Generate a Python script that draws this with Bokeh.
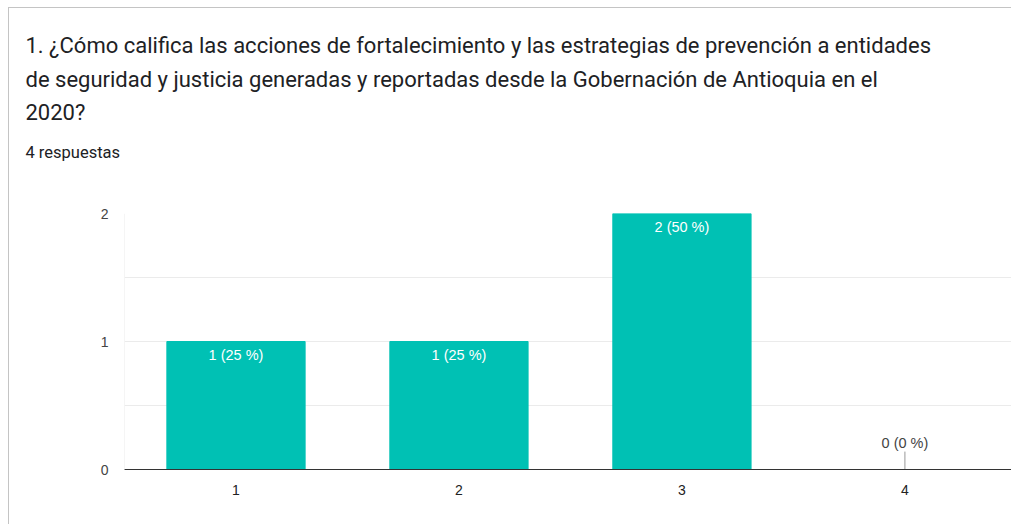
from bokeh.plotting import figure
from bokeh.layouts import column
from bokeh.models import FixedTicker, Span, ColumnDataSource, Range1d, GlobalInlineStyleSheet
from bokeh.core.properties import value
from bokeh.embed import file_html
from bokeh.resources import INLINE

# ---- data ----
categories = ["1", "2", "3", "4"]
counts = [1, 1, 2, 0]
percents = [25, 25, 50, 0]
title_lines = [
    "1. ¿Cómo califica las acciones de fortalecimiento y las estrategias de prevención a entidades",
    "de seguridad y justicia generadas y reportadas desde la Gobernación de Antioquia en el",
    "2020?",
]
subtitle = "4 respuestas"
y_ticks = [0, 1, 2]
y_grid = [0.5, 1, 1.5, 2]

BAR = "#00c1b4"
W = 1002
HT = 195          # header (title) height
HC = 321          # chart height

xs = list(range(1, len(categories) + 1))
labels = [f"{c} ({p} %)" for c, p in zip(counts, percents)]

# ---- header figure: pixel-like coordinates (y downwards) ----
t = figure(width=W, height=HT, output_backend="svg", toolbar_location=None,
           x_range=Range1d(0, W), y_range=Range1d(HT, 0),
           min_border=0, outline_line_color=None, frame_align=False)
t.axis.visible = False
t.grid.visible = False
t.text(x=[16] * len(title_lines), y=[37 + 33.5 * i for i in range(len(title_lines))],
       text=title_lines, text_font=value("Roboto"), text_font_size="22px",
       text_color="#202124", text_baseline="alphabetic")
t.text(x=[16], y=[144], text=[subtitle], text_font=value("Roboto"), text_font_size="16.5px",
       text_color="#202124", text_baseline="alphabetic")

# ---- chart figure ----
p = figure(width=W, height=HC, output_backend="svg", toolbar_location=None,
           x_range=(0.5, 4.478), y_range=(0, 2), frame_align=False,
           min_border_left=115, min_border_right=0, min_border_top=10, min_border_bottom=55)
p.outline_line_color = None

src = ColumnDataSource(dict(x=xs, top=counts, label=labels))
p.vbar(x="x", top="top", width=0.62, source=src, fill_color=BAR, line_color=BAR)

pos = [i for i, c in enumerate(counts) if c > 0]
zero = [i for i, c in enumerate(counts) if c == 0]
p.text(x=[xs[i] for i in pos], y=[counts[i] for i in pos], text=[labels[i] for i in pos],
       text_color="white", text_font=value("Liberation Sans"), text_font_size="14.5px",
       text_align="center", text_baseline="top", y_offset=5)
p.text(x=[xs[i] for i in zero], y=[counts[i] for i in zero], text=[labels[i] for i in zero],
       text_color="#444444", text_font=value("Liberation Sans"), text_font_size="14.5px",
       text_align="center", text_baseline="bottom", y_offset=-19)
p.segment(x0=[xs[i] for i in zero], y0=[counts[i] for i in zero],
          x1=[xs[i] for i in zero], y1=[counts[i] + 0.14 for i in zero],
          line_color="#999999", line_width=1)

p.xaxis.ticker = FixedTicker(ticks=xs)
p.xaxis.major_label_overrides = {x: c for x, c in zip(xs, categories)}
p.xaxis.axis_line_color = "#333333"
p.xaxis.major_tick_line_color = None
p.xaxis.minor_tick_line_color = None
p.xaxis.major_label_standoff = 9
p.xaxis.major_label_text_font = "Liberation Sans"
p.xaxis.major_label_text_font_size = "14px"
p.xaxis.major_label_text_color = "#222222"

p.yaxis.ticker = FixedTicker(ticks=y_ticks)
p.yaxis.axis_line_color = None
p.yaxis.major_tick_line_color = None
p.yaxis.minor_tick_line_color = None
p.yaxis.major_label_standoff = 10
p.yaxis.major_label_text_font = "Liberation Sans"
p.yaxis.major_label_text_font_size = "14px"
p.yaxis.major_label_text_color = "#444444"

p.xgrid.grid_line_color = None
p.ygrid.ticker = FixedTicker(ticks=y_grid)
p.ygrid.grid_line_color = "#ebebeb"
p.add_layout(Span(location=0.5, dimension="height", line_color="#ebebeb", line_width=1))

page = column(t, p, spacing=0,
              styles={"border-top": "1px solid #c4c4c4", "border-left": "1px solid #c4c4c4",
                      "margin-top": "7px", "margin-left": "8px"},
              stylesheets=[GlobalInlineStyleSheet(css="html, body { overflow: hidden; }")])

open("out.html", "w").write(file_html(page, INLINE))
